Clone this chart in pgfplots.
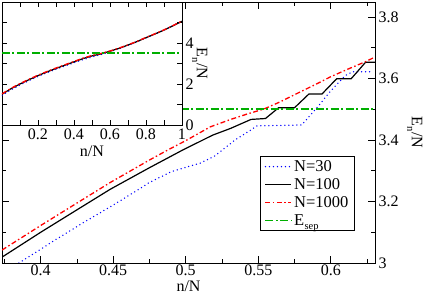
\documentclass[border=0pt]{standalone}
\usepackage{fontspec}
\setmainfont{Liberation Serif}
\usepackage{pgfplots}
\pgfplotsset{compat=1.18}
\newcommand{\Esub}[1]{E\kern0.3pt\raisebox{-0.6ex}{\fontsize{10.5}{10.5}\selectfont #1}}
\definecolor{ggreen}{RGB}{0,175,0}
\pgfplotsset{
  every axis/.append style={
    font=\fontsize{16}{18}\selectfont,
    tick label style={font=\fontsize{16}{18}\selectfont},
    label style={font=\fontsize{16}{18}\selectfont},
    axis line style={line width=0.8pt},
    every tick/.style={black, line width=0.8pt},
    /pgf/number format/assume math mode=true,
  },
  s30/.style={blue, line width=1.5pt, line cap=round, dash pattern=on 0pt off 4pt},
  s100/.style={black, line width=1.2pt},
  s1000/.style={red, line width=1.3pt, dash pattern=on 5pt off 2.5pt on 1.5pt off 2.5pt},
  ssep/.style={color=ggreen, draw=ggreen, line width=1.6pt, dash pattern=on 8pt off 2.5pt on 2pt off 2.5pt},
}
\begin{document}
\begin{tikzpicture}[font=\fontsize{16}{18}\selectfont]
\path[use as bounding box] (-2pt,-33pt) rectangle (422pt,263pt);
\begin{axis}[
  at={(0pt,0pt)}, anchor=south west,
  scale only axis, width=373pt, height=261pt,
  xmin=0.3733, xmax=0.6305, ymin=3, ymax=3.849,
  xtick={0.4,0.45,0.5,0.55,0.6},
  minor xtick={0.375,0.425,0.475,0.525,0.575,0.625},
  ytick={3,3.2,3.4,3.6,3.8},
  minor ytick={3.1,3.3,3.5,3.7},
  tick align=inside, major tick length=7pt, minor tick length=4pt,
  yticklabel pos=right,
  xticklabel style={yshift=1.5pt},
  xlabel={n/N}, ylabel={\Esub{n}/N},
  xlabel style={yshift=1.5pt},
  ylabel style={rotate=180}, ylabel shift=2pt,
  legend style={at={(0.946,0.41)}, anchor=north east, fill=white,
    line width=0.8pt, inner xsep=4pt, inner ysep=2pt, row sep=1.5pt,
    font=\fontsize{16.5}{17}\selectfont, cells={anchor=west}},
  legend image code/.code={\draw[#1] (0pt,0pt) -- (26pt,0pt);},
]
\addplot[s30] coordinates {
(0.3733,2.965) (0.385,3.0) (0.41,3.075) (0.43,3.133) (0.448,3.183) (0.465,3.232)
(0.475,3.262) (0.49,3.297) (0.51,3.325) (0.52,3.348) (0.534,3.40) (0.545,3.433)
(0.549,3.446) (0.580,3.449) (0.591,3.508) (0.600,3.56) (0.610,3.61) (0.615,3.622)
(0.628,3.622)};
\addlegendentry{N=30}
\addplot[s100] coordinates {
(0.3733,3.019) (0.40,3.100) (0.425,3.173) (0.448,3.240) (0.475,3.310) (0.4977,3.367)
(0.5186,3.416) (0.531,3.438) (0.545,3.467) (0.555,3.470) (0.564,3.505) (0.575,3.505)
(0.585,3.550) (0.594,3.550) (0.604,3.599) (0.614,3.599) (0.624,3.653) (0.6305,3.653)};
\addlegendentry{N=100}
\addplot[s1000] coordinates {
(0.3733,3.042) (0.40,3.122) (0.425,3.195) (0.448,3.262) (0.475,3.335) (0.4874,3.367)
(0.50,3.398) (0.517,3.443) (0.531,3.467) (0.542,3.484) (0.554,3.501) (0.565,3.524)
(0.577,3.552) (0.59,3.582) (0.60,3.606) (0.612,3.631) (0.624,3.655) (0.6305,3.670)};
\addlegendentry{N=1000}
\addplot[ssep] coordinates {(0.3,3.5) (0.7,3.5)};
\addlegendentry{\Esub{sep}}
\end{axis}
\begin{axis}[
  at={(0pt,138pt)}, anchor=south west,
  scale only axis, width=180pt, height=123pt,
  xmin=0, xmax=1, ymin=0, ymax=6,
  xtick={0.2,0.4,0.6,0.8,1}, minor xtick={0.1,0.3,0.5,0.7,0.9},
  ytick={0,2,4}, minor ytick={1,3,5},
  tick align=inside, major tick length=5pt, minor tick length=5pt,
  yticklabel pos=right,
  axis background/.style={fill=white},
  xlabel={n/N}, ylabel={\Esub{n}/N},
  ylabel style={rotate=180}, ylabel shift=-8pt,
]
\addplot[s30] coordinates {
(0,1.45) (0.05,1.72) (0.1,1.95) (0.15,2.17) (0.2,2.37) (0.25,2.55) (0.3,2.72)
(0.35,2.88) (0.4,3.04) (0.45,3.19) (0.5,3.32) (0.55,3.44) (0.6,3.58) (0.65,3.72)
(0.7,3.89) (0.75,4.06) (0.8,4.25) (0.85,4.44) (0.9,4.64) (0.95,4.85) (1.0,5.06)};
\addplot[s100] coordinates {
(0,1.50) (0.05,1.77) (0.1,2.00) (0.15,2.21) (0.2,2.41) (0.25,2.59) (0.3,2.76)
(0.35,2.92) (0.4,3.08) (0.45,3.24) (0.5,3.37) (0.55,3.47) (0.6,3.60) (0.65,3.74)
(0.7,3.90) (0.75,4.07) (0.8,4.26) (0.85,4.44) (0.9,4.63) (0.95,4.84) (1.0,5.06)};
\addplot[s1000] coordinates {
(0,1.52) (0.05,1.79) (0.1,2.02) (0.15,2.23) (0.2,2.43) (0.25,2.61) (0.3,2.78)
(0.35,2.94) (0.4,3.10) (0.45,3.26) (0.5,3.39) (0.55,3.49) (0.6,3.61) (0.65,3.75)
(0.7,3.91) (0.75,4.08) (0.8,4.27) (0.85,4.45) (0.9,4.64) (0.95,4.85) (1.0,5.07)};
\addplot[ssep] coordinates {(0,3.5) (1,3.5)};
\end{axis}
\end{tikzpicture}
\end{document}
